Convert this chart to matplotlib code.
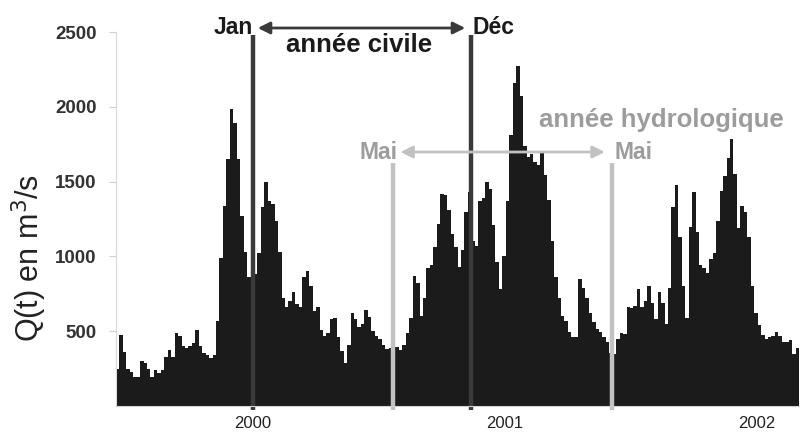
import numpy as np
import matplotlib
matplotlib.use("Agg")
import matplotlib.pyplot as plt

plt.rcParams['font.family'] = ['Liberation Sans', 'DejaVu Sans']

# Debit moyen sur 5 jours (m3/s), a partir de mi-juin 1999
t_start = 1999.4563
step_days = 5
q = [250, 475, 360, 250, 227, 195, 192, 300, 285, 245,
     195, 240, 220, 240, 325, 375, 330, 490, 470, 400,
     385, 400, 420, 505, 400, 355, 340, 318, 340, 570,
     990, 1340, 1650, 1985, 1890, 1650, 1270, 1030, 864, 864,
     880, 1020, 1330, 1500, 1370, 1350, 1240, 1030, 720, 665,
     705, 765, 685, 665, 860, 905, 800, 635, 660, 505,
     465, 490, 585, 590, 460, 370, 290, 410, 625, 585,
     530, 545, 645, 595, 500, 470, 450, 405, 380, 390,
     396, 396, 375, 410, 485, 590, 870, 820, 605, 720,
     925, 940, 1065, 1215, 1420, 1410, 1310, 1150, 1065, 930,
     1040, 1300, 1432, 1100, 1070, 1370, 1390, 1500, 1450, 1210,
     960, 785, 1000, 1370, 1810, 2160, 2275, 2070, 1740, 1665,
     1685, 1630, 1610, 1705, 1545, 1380, 1100, 865, 720, 600,
     565, 495, 463, 463, 850, 790, 722, 625, 560, 515,
     497, 460, 425, 352, 345, 445, 490, 480, 665, 655,
     670, 780, 660, 700, 800, 690, 580, 760, 690, 550,
     790, 1330, 1480, 1130, 800, 590, 1200, 1430, 1160, 940,
     925, 890, 980, 1020, 1240, 1440, 1540, 1660, 1785, 1550,
     1190, 1335, 1300, 1130, 800, 620, 540, 475, 445, 462,
     470, 495, 465, 430, 430, 440, 350, 385]

years = [2000, 2001, 2002]
yticks = [500, 1000, 1500, 2000, 2500]

# reperes annee civile / annee hydrologique (en annees decimales)
civil_start, civil_end = 2000.0, 2000.865
hydro_start, hydro_end = 2000.556, 2001.425

step = step_days / 365.25
t = t_start + step * np.arange(len(q))

fig = plt.figure(figsize=(8, 4.37), dpi=100)
ax = fig.add_axes([0.145, 0.0709, 0.855, 0.8558])

ax.bar(t, q, width=step, align='edge', color='#1b1b1b', linewidth=0)

ax.set_xlim(t_start, t_start + 684 / 252)
ax.set_ylim(0, 2500)

ax.set_yticks(yticks)
ax.set_yticklabels([str(v) for v in yticks], fontsize=13.5, fontweight='bold', color='#333333')
ax.set_xticks(years)
ax.set_xticklabels([str(y) for y in years], fontsize=12, color='#222222')
ax.tick_params(axis='x', length=0, pad=7)
ax.tick_params(axis='y', length=5, color='#d0d0d0', pad=9)

for side in ['top', 'right']:
    ax.spines[side].set_visible(False)
ax.spines['left'].set_color('#d8d8d8')
ax.spines['bottom'].set_color('#d0d0d0')

fig.text(0.036, 1 - 258 / 437, 'Q(t) en m$^3$/s', rotation=90, ha='center', va='center',
         fontsize=22, color='#222222')

dark = '#3a3a3a'
light = '#c2c2c2'
grey_txt = '#9c9c9c'

# lignes verticales
for xv in [civil_start, civil_end]:
    ax.plot([xv, xv], [-25, 2480], color=dark, lw=3.2, clip_on=False, solid_capstyle='butt')
for xv in [hydro_start, hydro_end]:
    ax.plot([xv, xv], [-25, 1622], color=light, lw=3.2, clip_on=False, solid_capstyle='butt')

# annee civile
y_civ = 2527
ax.annotate('', xy=(civil_end - 0.012, y_civ), xytext=(civil_start + 0.008, y_civ),
            arrowprops=dict(arrowstyle='<|-|>', color=dark, lw=2, mutation_scale=18),
            annotation_clip=False)
ax.text(civil_start, y_civ, 'Jan', ha='right', va='center', fontsize=16.5,
        fontweight='bold', color='#1a1a1a', clip_on=False)
ax.text(civil_end + 0.004, y_civ, 'Déc', ha='left', va='center', fontsize=16.5,
        fontweight='bold', color='#1a1a1a', clip_on=False)
ax.text((civil_start + civil_end) / 2 - 0.01, 2410, 'année civile', ha='center', va='center',
        fontsize=18.5, fontweight='bold', color='#1a1a1a')

# annee hydrologique
y_hyd = 1698
ax.annotate('', xy=(hydro_end - 0.018, y_hyd), xytext=(hydro_start + 0.018, y_hyd),
            arrowprops=dict(arrowstyle='<|-|>', color=light, lw=2, mutation_scale=18),
            annotation_clip=False)
ax.text(hydro_start + 0.016, y_hyd, 'Mai', ha='right', va='center', fontsize=16.5,
        fontweight='bold', color=grey_txt)
ax.text(hydro_end + 0.008, y_hyd, 'Mai', ha='left', va='center', fontsize=16.5,
        fontweight='bold', color=grey_txt)
ax.text(hydro_end + 0.195, 1912, 'année hydrologique', ha='center', va='center',
        fontsize=18.5, fontweight='bold', color=grey_txt)

fig.savefig('out.png', dpi=100)
